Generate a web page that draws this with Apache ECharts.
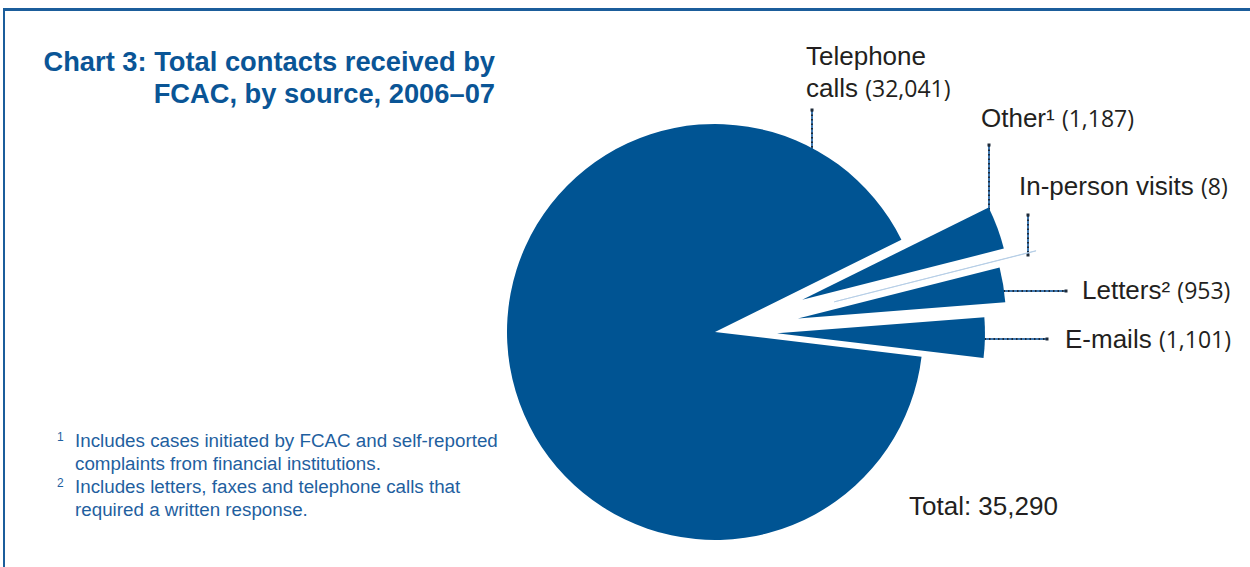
<!DOCTYPE html>
<html>
<head>
<meta charset="utf-8">
<script src="https://cdn.jsdelivr.net/npm/echarts@6/dist/echarts.min.js"></script>
<style>
html,body{margin:0;padding:0;background:#fff;}
#main{width:1250px;height:567px;}
</style>
</head>
<body>
<div id="main"></div>
<script>
// data
var sources = ['Telephone calls', 'Other', 'In-person visits', 'Letters', 'E-mails'];
var contacts = [32041, 1187, 8, 953, 1101];
var noteMark = ['', '\u00b9', '', '\u00b2', ''];
var totalLabel = 'Total: 35,290';
var titleLines = ['Chart 3: Total contacts received by', 'FCAC, by source, 2006\u201307'];
var footnotes = [
    ['1', 'Includes cases initiated by FCAC and self-reported', 'complaints from financial institutions.'],
    ['2', 'Includes letters, faxes and telephone calls that', 'required a written response.']
];

// styles
var blue = '#005493';
var ink = '#231f20';
var explode = [0, 93, 123, 84, 62];   // how far each slice is pulled out
// label spots [x, y(middle)], and leader lines [x1,y1,x2,y2]
var labelPos = [[806, 72], [981, 118], [1019, 186], [1082, 290], [1065, 339]];
var leaders = [[812, 110, 812, 185], [989, 145, 989, 221], [1028, 215, 1028, 255],
               [990, 291, 1066, 291], [971, 339, 1047, 339]];

function fmt(v) { return v.toLocaleString('en-US'); }

var chart = echarts.init(document.getElementById('main'), null, {renderer: 'svg'});

// one pie series per slice so each can have its own offset
var series = [];
for (var i = 0; i < sources.length; i++) {
    var items = [];
    for (var j = 0; j < sources.length; j++) {
        var st = {color: 'rgba(0,0,0,0)', borderWidth: 0};
        if (j == i) {
            st = {color: blue, borderWidth: 0};
            if (contacts[j] < 50) st = {color: '#a9c3df', borderColor: '#b3cbe4', borderWidth: 0.8};
        }
        items.push({name: sources[j], value: contacts[j], selected: j == i && explode[i] > 0, itemStyle: st});
    }
    series.push({
        type: 'pie',
        center: [715, 332],
        radius: [0, 208],
        startAngle: -6.8,
        clockwise: true,
        selectedMode: 'multiple',
        selectedOffset: explode[i],
        silent: true,
        animation: false,
        label: {show: false},
        labelLine: {show: false},
        emphasis: {disabled: true},
        data: items
    });
}

var g = [];
// frame
g.push({type: 'rect', shape: {x: 3, y: 8, width: 1247, height: 3}, style: {fill: '#1b5d9b'}});
g.push({type: 'rect', shape: {x: 3, y: 8, width: 2, height: 559}, style: {fill: '#1b5d9b'}});
// title
for (var t = 0; t < titleLines.length; t++) {
    g.push({type: 'text', x: 495, y: 61 + t * 32, style: {
        text: titleLines[t], fill: '#0a5596', font: 'bold 27.3px "Liberation Sans", Arial, sans-serif',
        align: 'right', verticalAlign: 'middle'}});
}
// footnotes
for (var f = 0; f < footnotes.length; f++) {
    var y0 = 440 + f * 46;
    g.push({type: 'text', x: 57, y: y0 - 3, style: {text: footnotes[f][0], fill: '#1f5f9f',
        font: '12px "Liberation Sans", Arial, sans-serif', verticalAlign: 'middle'}});
    g.push({type: 'text', x: 75, y: y0, style: {text: footnotes[f][1], fill: '#1f5f9f',
        font: '18.8px "Liberation Sans", Arial, sans-serif', verticalAlign: 'middle'}});
    g.push({type: 'text', x: 75, y: y0 + 23, style: {text: footnotes[f][2], fill: '#1f5f9f',
        font: '18.8px "Liberation Sans", Arial, sans-serif', verticalAlign: 'middle'}});
}
// slice labels
for (var k = 0; k < sources.length; k++) {
    var nm = sources[k] + noteMark[k];
    var txt;
    if (k == 0) {
        var w = sources[k].split(' ');
        txt = '{n|' + w[0] + '}\n{n|' + w[1] + ' }{v|(' + fmt(contacts[k]) + ')}';
    } else {
        txt = '{n|' + nm + ' }{v|(' + fmt(contacts[k]) + ')}';
    }
    g.push({type: 'text', x: labelPos[k][0], y: labelPos[k][1], style: {
        text: txt, verticalAlign: 'middle', fill: ink,
        rich: {
            n: {fontSize: 26, fontFamily: '"Liberation Sans", Arial, sans-serif', fill: ink, lineHeight: 32},
            v: {fontSize: 23, fontFamily: '"Open Sans", sans-serif', fill: ink, lineHeight: 32}
        }}});
    var L = leaders[k];
    g.push({type: 'line', shape: {x1: L[0], y1: L[1], x2: L[2], y2: L[3]},
        style: {stroke: '#3f78b0', lineWidth: 2}});
    g.push({type: 'line', shape: {x1: L[0], y1: L[1], x2: L[2], y2: L[3]},
        style: {stroke: '#1e2a38', lineWidth: 2, lineDash: [1.5, 3]}});
    g.push({type: 'rect', shape: {x: L[0] - 1.5, y: L[1] - 1.5, width: 3, height: 3}, style: {fill: '#1e2a38'}});
    g.push({type: 'rect', shape: {x: L[2] - 1.5, y: L[3] - 1.5, width: 3, height: 3}, style: {fill: '#1e2a38'}});
}
// total
g.push({type: 'text', x: 909, y: 506, style: {text: totalLabel, fill: ink,
    font: '26px "Liberation Sans", Arial, sans-serif', verticalAlign: 'middle'}});

var option = {
    backgroundColor: '#fff',
    animation: false,
    series: series,
    graphic: g
};
chart.setOption(option);
</script>
</body>
</html>
